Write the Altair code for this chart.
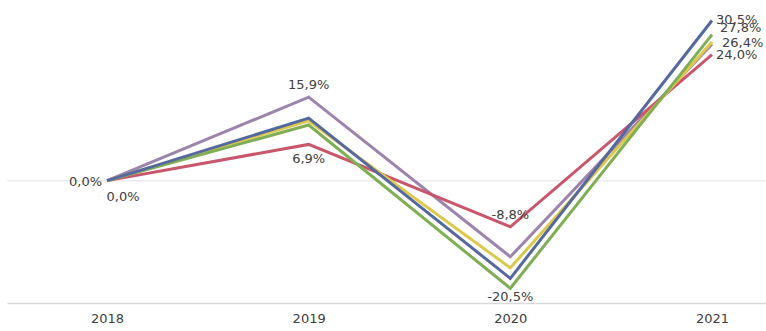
import altair as alt
import pandas as pd

# ---- data ----
years = [2018, 2019, 2020, 2021]
series_names = ["Série A", "Série B", "Série C", "Série D", "Série E"]
series_a = [0.0, 15.9, -14.5, 26.0]    # purple
series_b = [0.0, 6.9, -8.8, 24.0]      # red
series_c = [0.0, 11.4, -16.6, 26.4]    # yellow
series_d = [0.0, 10.6, -20.5, 27.8]    # green
series_e = [0.0, 11.9, -18.6, 30.5]    # blue
series_values = [series_a, series_b, series_c, series_d, series_e]
series_colors = ["#9d84ad", "#c9566a", "#dcc94c", "#7fae55", "#55699e"]

label_years = [2018, 2018, 2019, 2019, 2020, 2020, 2021, 2021, 2021, 2021]
label_values = [0.0, 0.0, 15.9, 6.9, -8.8, -20.5, 30.5, 27.8, 26.4, 24.0]
label_spots = ["left", "below_right", "above", "below", "above", "bottom",
               "right", "right_up", "right_far", "right"]

# ---- build tables ----
rows = []
for name, vals in zip(series_names, series_values):
    for yr, v in zip(years, vals):
        rows.append({"serie": name, "ano": yr, "valor": v})
df = pd.DataFrame(rows)

labels = pd.DataFrame({
    "ano": label_years,
    "valor": label_values,
    "spot": label_spots,
    "texto": [f"{v:.1f}".replace(".", ",") + "%" for v in label_values],
})

FONT = "DejaVu Sans"
xscale = alt.Scale(domain=[2017.5041, 2021.2678], nice=False, zero=False)
yscale = alt.Scale(domain=[-23.3, 34.4], nice=False, zero=False)

x_enc = alt.X("ano:Q", scale=xscale,
              axis=alt.Axis(values=years, format="d", title=None, grid=False,
                            ticks=False, domain=True, domainColor="#d9d9d9",
                            domainWidth=1.5, labelFont=FONT, labelFontSize=13,
                            labelColor="#404040", labelPadding=9))
y_enc = alt.Y("valor:Q", scale=yscale, axis=None)

zero = alt.Chart(pd.DataFrame({"valor": [0]})).mark_rule(
    color="#ececec", strokeWidth=1.5
).encode(y=alt.Y("valor:Q", scale=yscale, axis=None))

lines = alt.Chart(df).mark_line(strokeWidth=3).encode(
    x=x_enc,
    y=y_enc,
    color=alt.Color("serie:N",
                    scale=alt.Scale(domain=series_names, range=series_colors),
                    legend=None),
    order=alt.Order("ano:Q"),
)

placements = {
    "left": ("right", -5, 1),
    "below_right": ("center", 16, 16),
    "above": ("center", 0, -12),
    "below": ("center", 0, 15),
    "bottom": ("center", 0, 9),
    "right": ("left", 4, 0),
    "right_up": ("left", 8, -7),
    "right_far": ("left", 10, 1),
}

text_layers = []
for spot, (align, dx, dy) in placements.items():
    text_layers.append(
        alt.Chart(labels).transform_filter(alt.datum.spot == spot).mark_text(
            font=FONT, fontSize=13, color="#404040", align=align,
            baseline="middle", dx=dx, dy=dy
        ).encode(x=alt.X("ano:Q", scale=xscale), y=alt.Y("valor:Q", scale=yscale),
                 text="texto:N")
    )

chart = alt.layer(zero, lines, *text_layers).properties(
    width=759, height=303,
    background="white",
    autosize=alt.AutoSizeParams(type="none"),
    padding={"left": 7, "top": 0, "right": 0, "bottom": 28},
).configure_view(stroke=None)

chart.save("out.html", embed_options={"renderer": "svg", "actions": False})
